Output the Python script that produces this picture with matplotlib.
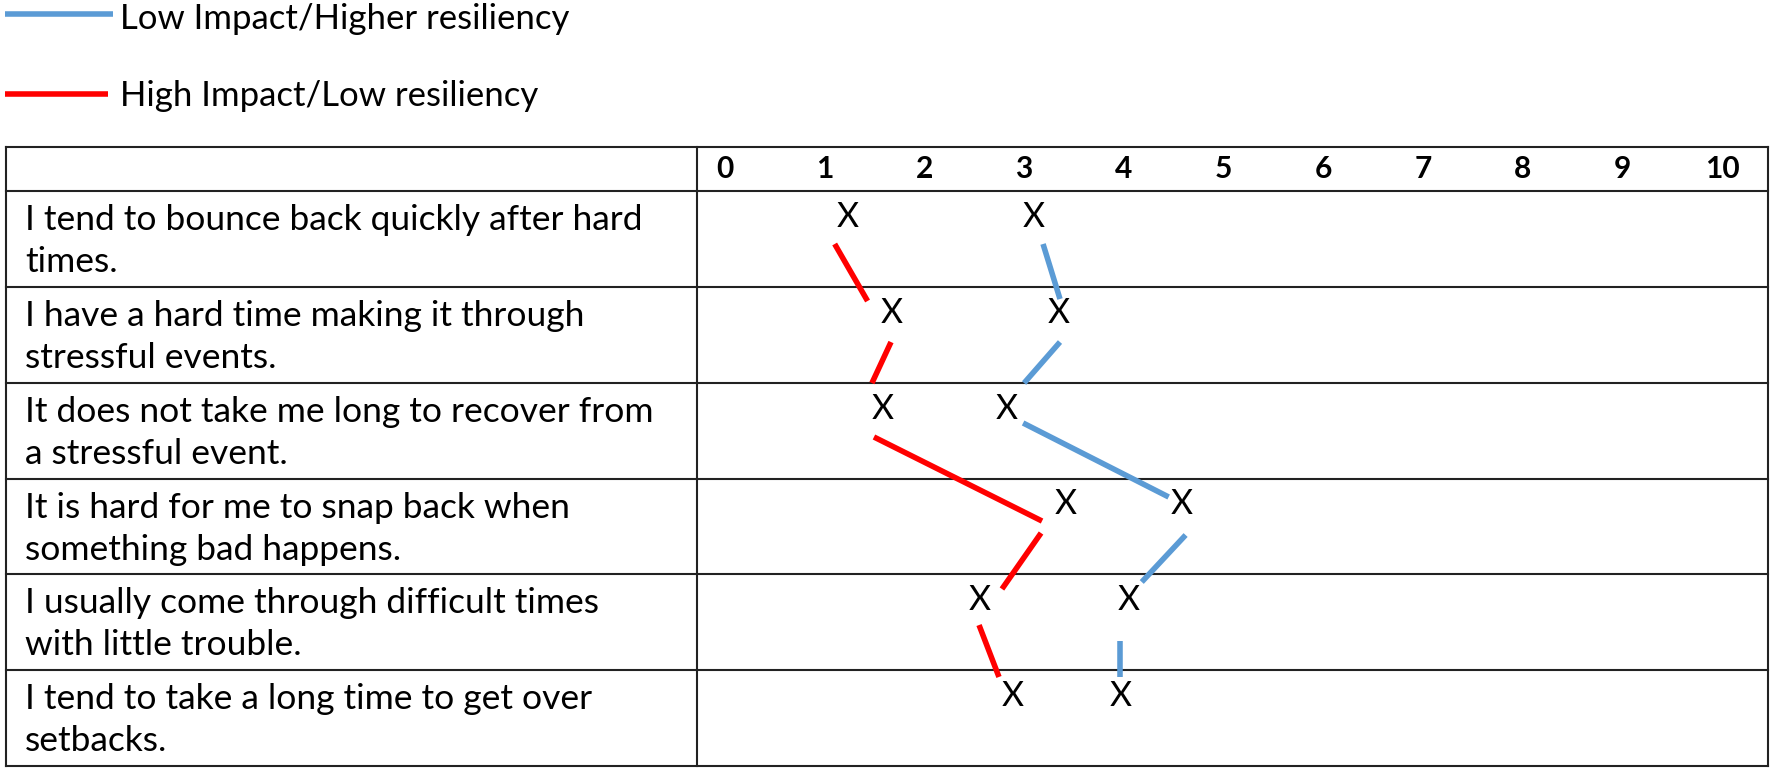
import matplotlib
matplotlib.use("Agg")
import matplotlib.pyplot as plt

# statements (rows of the table)
statements = [
    "I tend to bounce back quickly after hard\ntimes.",
    "I have a hard time making it through\nstressful events.",
    "It does not take me long to recover from\na stressful event.",
    "It is hard for me to snap back when\nsomething bad happens.",
    "I usually come through difficult times\nwith little trouble.",
    "I tend to take a long time to get over\nsetbacks.",
]
scale_ticks = list(range(0, 11))

# where the X marks sit on the 0-10 scale
high_impact_scores = [1.23, 1.67, 1.58, 3.42, 2.55, 2.89]
low_impact_scores = [3.10, 3.35, 2.83, 4.58, 4.05, 3.97]

# connector segments (score, row) - drawn by hand in the original
red_x0 = [1.10, 1.665, 1.494, 3.17, 2.548]
red_y0 = [0.553, 1.576, 2.567, 3.569, 4.529]
red_x1 = [1.43, 1.474, 3.18, 2.778, 2.748]
red_y1 = [1.148, 2.004, 3.444, 4.153, 5.071]

blue_x0 = [3.19, 3.36, 2.99, 4.62, 3.96]
blue_y0 = [0.553, 1.576, 2.421, 3.590, 4.696]
blue_x1 = [3.36, 3.00, 4.45, 4.18, 3.96]
blue_y1 = [1.127, 2.004, 3.193, 4.080, 5.071]

legend_labels = ["Low Impact/Higher resiliency", "High Impact/Low resiliency"]

BLUE = "#5B9BD5"
RED = "#FF0000"
FONT = "Lato"
W, H = 1772, 770

fig = plt.figure(figsize=(W / 100, H / 100), dpi=100)
fig.patch.set_facecolor("white")

# full-figure axes in pixel units for the table frame and texts
ax = fig.add_axes([0, 0, 1, 1])
ax.set_xlim(0, W)
ax.set_ylim(H, 0)
ax.axis("off")

table_left, col_split, table_right = 6, 697, 1768
table_top, header_bottom, table_bottom = 147, 191, 766
row_h = (table_bottom - header_bottom) / len(statements)
line_kw = dict(color="#222222", lw=1.5)

ax.plot([table_left, table_right], [table_top, table_top], **line_kw)
for k in range(len(statements) + 1):
    y = header_bottom + k * row_h
    ax.plot([table_left, table_right], [y, y], **line_kw)
for x in (table_left, col_split, table_right):
    ax.plot([x, x], [table_top, table_bottom], **line_kw)

# statement texts
for i, s in enumerate(statements):
    top = header_bottom + i * row_h
    for j, line in enumerate(s.split("\n")):
        ax.text(25, top + 39 + j * 42, line, family=FONT, fontsize=25.5,
                va="baseline", ha="left", color="black")

# legend
ax.plot([5, 113], [14, 14], color=BLUE, lw=4, solid_capstyle="butt")
ax.text(120, 29, legend_labels[0], family=FONT, fontsize=25, va="baseline")
ax.plot([5, 108], [94, 94], color=RED, lw=4, solid_capstyle="butt")
ax.text(120, 106, legend_labels[1], family=FONT, fontsize=25, va="baseline")

# score area: x in scale units, y in row units
px0 = 725.0   # pixel of score 0
ppu = 99.7    # pixels per score unit
sa = fig.add_axes([col_split / W, (H - table_bottom) / H,
                   (table_right - col_split) / W,
                   (table_bottom - header_bottom) / H])
sa.set_xlim((col_split - px0) / ppu, (table_right - px0) / ppu)
sa.set_ylim(len(statements), 0)
sa.patch.set_alpha(0)
for sp in sa.spines.values():
    sp.set_visible(False)
sa.set_yticks([])
sa.xaxis.tick_top()
sa.set_xticks(scale_ticks)
sa.set_xticklabels([str(t) for t in scale_ticks])
sa.tick_params(axis="x", length=0, pad=6)
for lab in sa.get_xticklabels():
    lab.set_fontfamily(FONT)
    lab.set_fontweight("bold")
    lab.set_fontsize(21.5)

for i in range(len(statements)):
    sa.text(high_impact_scores[i], i + 0.375, "X", family=FONT, fontsize=24.5,
            ha="center", va="baseline")
    sa.text(low_impact_scores[i], i + 0.375, "X", family=FONT, fontsize=24.5,
            ha="center", va="baseline")

for k in range(len(red_x0)):
    sa.plot([red_x0[k], red_x1[k]], [red_y0[k], red_y1[k]], color=RED,
            lw=4, solid_capstyle="butt")
    sa.plot([blue_x0[k], blue_x1[k]], [blue_y0[k], blue_y1[k]], color=BLUE,
            lw=4, solid_capstyle="butt")

fig.savefig("out.png", dpi=100, facecolor="white")
